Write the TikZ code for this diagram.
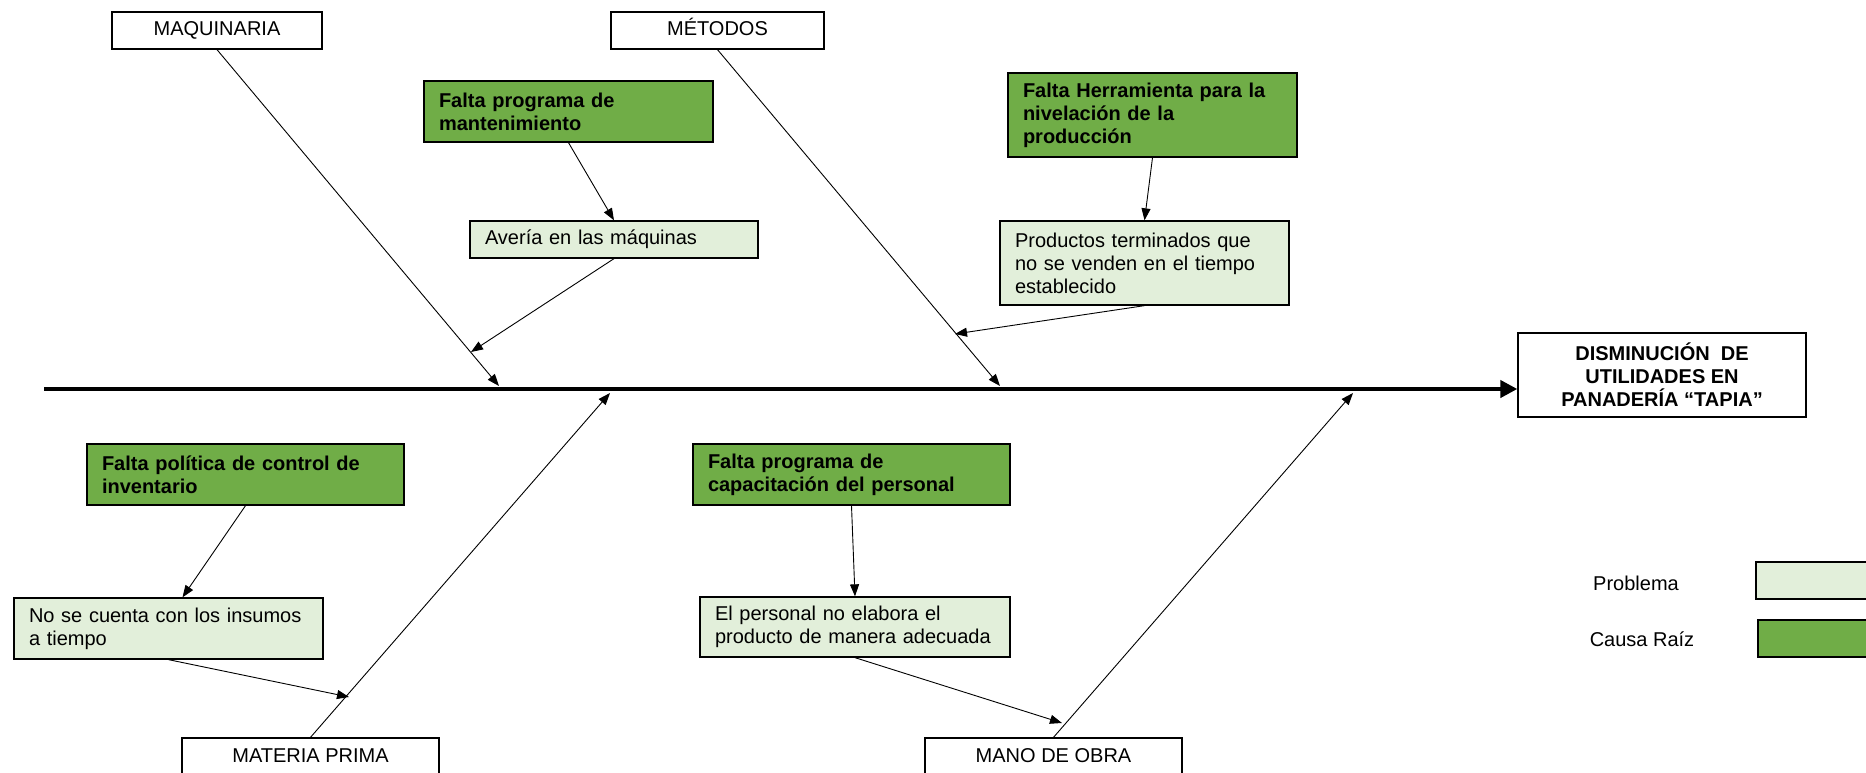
\documentclass[tikz,border=0pt]{standalone}
\usepackage{fontspec}
\setmainfont{Liberation Sans}
\usetikzlibrary{arrows.meta,calc}
\definecolor{rootgreen}{HTML}{70AD47}
\definecolor{problight}{HTML}{E2EFDA}
\begin{document}
\begin{tikzpicture}[x=1pt,y=-1pt,
  txt/.style={font=\fontsize{20}{23}\selectfont},
  catbox/.style={txt, draw=black, line width=1.3pt, fill=white, inner sep=0pt, align=center},
  onelabel/.style={text height=14.5pt, text depth=4pt},
  probbox/.style={txt, draw=black, line width=1.3pt, fill=problight, inner xsep=15pt, inner ysep=0pt, align=left},
  rootbox/.style={txt, draw=black, line width=1.3pt, fill=rootgreen, inner xsep=15pt, inner ysep=0pt, align=left, font=\fontsize{20}{23}\selectfont\bfseries},
  spine/.style={line width=4pt, -{Triangle[length=17pt,width=17pt]}},
  bone/.style={line width=0.9pt, -{Triangle[length=12pt,width=9pt]}}]
\useasboundingbox (0,0) rectangle (1866,773);
\clip (0,0) rectangle (1866,773);

% categories
\node[catbox, onelabel, minimum width=210pt, minimum height=37pt] (maq) at (217,30.5) {MAQUINARIA};
\node[catbox, onelabel, minimum width=213pt, minimum height=37pt] (met) at (717.5,30.5) {MÉTODOS};
\node[catbox, onelabel, minimum width=257pt, minimum height=38pt] (mp) at (310.5,757) {MATERIA PRIMA};
\node[catbox, onelabel, minimum width=257pt, minimum height=38pt] (mo) at (1053.5,757) {MANO DE OBRA};

% effect
\node[catbox, minimum width=288pt, minimum height=84pt, font=\fontsize{20}{23}\selectfont\bfseries] (effect) at (1662,375)
  {DISMINUCIÓN\ \ DE\\UTILIDADES EN\\PANADERÍA “TAPIA”};

% root causes
\node[rootbox, minimum width=289pt, minimum height=61pt, text width=259pt] (g1) at (568.5,111.5) {Falta programa de\\mantenimiento};
\node[rootbox, minimum width=289pt, minimum height=84pt, text width=259pt] (g2) at (1152.5,115) {Falta Herramienta para la\\nivelación de la\\producción};
\node[rootbox, minimum width=317pt, minimum height=61pt, text width=287pt] (g3) at (245.5,474.5) {Falta política de control de\\inventario};
\node[rootbox, minimum width=317pt, minimum height=61pt, text width=287pt] (g4) at (851.5,474.5) {Falta programa de\\capacitación del personal};

% problems
\node[probbox, minimum width=288pt, minimum height=37pt, text width=258pt] (p1) at (614,239.5) {Avería en las máquinas};
\node[probbox, minimum width=289pt, minimum height=84pt, text width=259pt] (p2) at (1144.5,263) {Productos terminados que\\no se venden en el tiempo\\establecido};
\node[probbox, minimum width=309pt, minimum height=61pt, text width=279pt] (p3) at (168.5,628.5) {No se cuenta con los insumos\\a tiempo};
\node[probbox, minimum width=310pt, minimum height=60pt, text width=280pt] (p4) at (855,627) {El personal no elabora el\\producto de manera adecuada};

% legend
\node[txt] (legP) at (1636,583) {Problema};
\node[txt] (legC) at (1642,639) {Causa Raíz};
\node[probbox, minimum width=144pt, minimum height=37pt] (legPbox) at (1828,580.5) {};
\node[rootbox, minimum width=142pt, minimum height=37pt] (legCbox) at (1829,638.5) {};

% spine
\coordinate (spineStart) at (44,389);
\draw[spine] (spineStart) -- (spineStart -| effect.west);

% bone tips on the spine
\coordinate (maqTip) at (499,386);
\coordinate (metTip) at (1000,386);
\coordinate (mpTip) at (610,393);
\coordinate (moTip) at (1353,393);
\draw[bone] (maq.south) -- (maqTip);
\draw[bone] (met.south) -- (metTip);
\draw[bone] (mp.north) -- (mpTip);
\draw[bone] (mo.north) -- (moTip);

% points on the bones
\coordinate (maqSub) at (471,352);
\coordinate (metSub) at (955,334);
\coordinate (mpSub) at (349,697);
\coordinate (moSub) at (1062,723);

% cause chains
\draw[bone] (g1.south) -- (p1.north);
\draw[bone] (p1.south) -- (maqSub);
\draw[bone] (g2.south) -- (p2.north);
\draw[bone] (p2.south) -- (metSub);
\draw[bone] (g3.south) -- ([xshift=14pt]p3.north);
\draw[bone] (p3.south) -- (mpSub);
\draw[bone] (g4.south) -- (p4.north);
\draw[bone] (p4.south) -- (moSub);
\end{tikzpicture}
\end{document}
